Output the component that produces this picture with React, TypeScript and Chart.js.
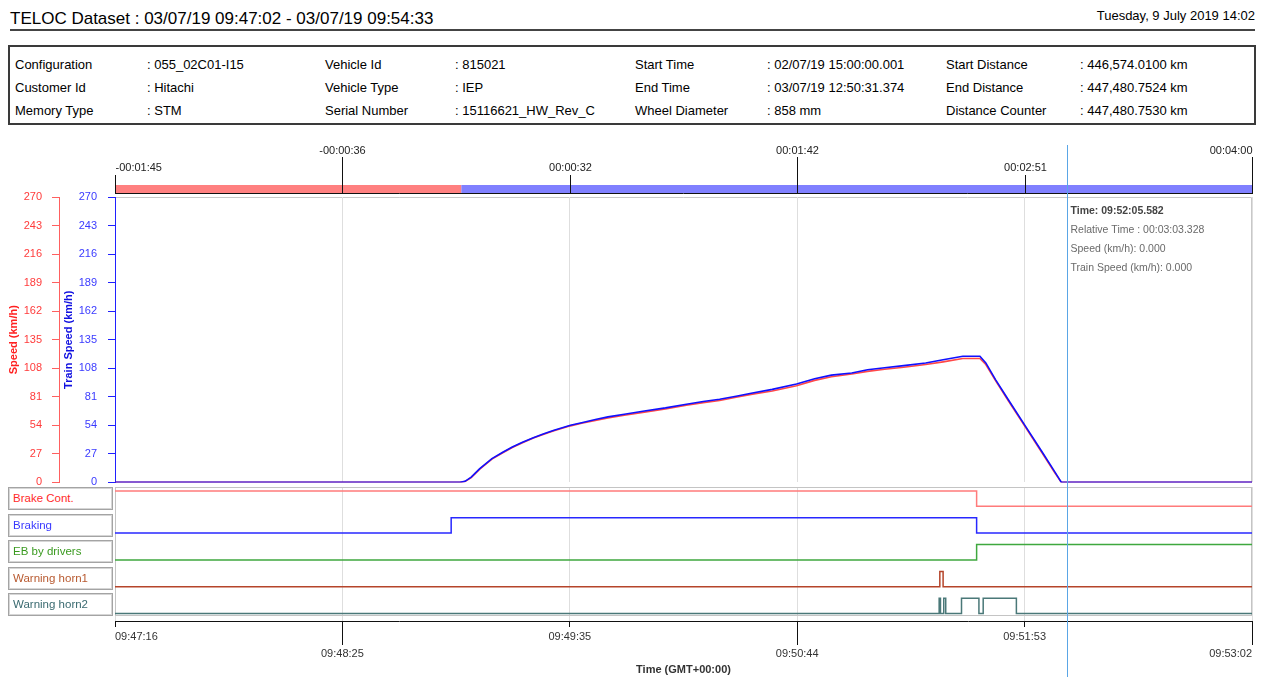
import React, { useEffect, useRef } from 'react';
import { Chart, registerables } from 'chart.js';

Chart.register(...registerables);

const FONT = '"Liberation Sans", Arial, sans-serif';

const titleText = 'TELOC Dataset : 03/07/19 09:47:02 - 03/07/19 09:54:33';
const printDate = 'Tuesday, 9 July 2019 14:02';

const infoLabelsCol1 = ['Configuration', 'Customer Id', 'Memory Type'];
const infoValuesCol1 = [': 055_02C01-I15', ': Hitachi', ': STM'];
const infoLabelsCol2 = ['Vehicle Id', 'Vehicle Type', 'Serial Number'];
const infoValuesCol2 = [': 815021', ': IEP', ': 15116621_HW_Rev_C'];
const infoLabelsCol3 = ['Start Time', 'End Time', 'Wheel Diameter'];
const infoValuesCol3 = [': 02/07/19 15:00:00.001', ': 03/07/19 12:50:31.374', ': 858 mm'];
const infoLabelsCol4 = ['Start Distance', 'End Distance', 'Distance Counter'];
const infoValuesCol4 = [': 446,574.0100 km', ': 447,480.7524 km', ': 447,480.7530 km'];

// time axis: seconds after 09:47:16
const X_MAX = 346;
const bottomTickLabels = ['09:47:16', '09:48:25', '09:49:35', '09:50:44', '09:51:53', '09:53:02'];
const topTickLabels = ['-00:01:45', '-00:00:36', '00:00:32', '00:01:42', '00:02:51', '00:04:00'];

// relative-time phase bar (before / after reference time)
const phaseStarts = [0, 105.4];
const phaseEnds = [105.4, 346];

const speedTimes = [0, 105, 106.5, 108.4, 111, 114.7, 118, 120.9, 124, 127.3,
  130.5, 133.6, 138.6, 142, 146.2, 150, 155, 161.1, 167.5, 173.9,
  179, 184, 189, 194, 200, 207.4, 212.9, 218, 224.2, 229,
  234.2, 240, 246.7, 252, 258, 263.2, 265, 268, 272, 276.9,
  282, 286, 288, 346];
const trainSpeedValues = [0, 0, 1, 5, 13, 22.5, 28.5, 33.5, 38, 42.3,
  46, 49.3, 54, 56.5, 59.5, 62, 64.5, 67.5, 70.5, 74,
  76.5, 78.6, 81.5, 84.6, 88, 93, 98, 101.5, 103.5, 106.5,
  108.5, 110.5, 113, 116, 119.4, 119.4, 113, 97, 77.5, 54,
  29.5, 10, 0, 0];
const speedValues = [0, 0, 0.8, 4.5, 12.5, 22, 28, 33, 37.5, 42,
  45.5, 48.8, 53.5, 56, 58.5, 61, 63.5, 66.5, 69.5, 73,
  75.5, 77.5, 80.5, 83.5, 86.5, 91.5, 96.5, 100, 102.5, 105,
  107, 109, 111.5, 114, 117.2, 117.2, 111.5, 96, 76.5, 53,
  28.5, 9, 0, 0];

const cursorTime = 289.582;
const tooltipLines = ['Time: 09:52:05.582', 'Relative Time : 00:03:03.328', 'Speed (km/h): 0.000', 'Train Speed (km/h): 0.000'];

// digital signals: transition times (s) and states
const signalNames = ['Brake Cont.', 'Braking', 'EB by drivers', 'Warning horn1', 'Warning horn2'];
const brakeContTimes = [0, 262.2, 346];
const brakeContStates = [1, 0, 0];
const brakingTimes = [0, 102.3, 262.2, 346];
const brakingStates = [0, 1, 0, 0];
const ebTimes = [0, 262.2, 346];
const ebStates = [0, 1, 1];
const horn1Times = [0, 251.0, 252.0, 346];
const horn1States = [0, 1, 0, 0];
const horn2Times = [0, 250.8, 251.2, 252.2, 252.8, 257.6, 262.9, 264.2, 274.3, 346];
const horn2States = [0, 1, 0, 1, 0, 1, 0, 1, 0, 0];

const signalLineColors = ['#ff7b7b', '#2828ff', '#3fa83f', '#b5442a', '#4a7878'];
const signalTextColors = ['#ff2a2a', '#3a3aff', '#3a9a20', '#b85a30', '#3a6a70'];
const LOW = 0.28;
const HIGH = 0.85;

const xTickValues = bottomTickLabels.map((_, i) => (i * X_MAX) / (bottomTickLabels.length - 1));
const setTicks = (s: any) => {
  s.ticks = xTickValues.map((v) => ({ value: v }));
};

const CURSOR_COLOR = '#5aa6e6';

export default function App() {
  const speedRef = useRef<HTMLCanvasElement>(null);
  const digitalRef = useRef<HTMLCanvasElement>(null);

  useEffect(() => {
    const topAxisPlugin = {
      id: 'topAxis',
      beforeDraw(chart: any) {
        const { ctx, chartArea: a, scales } = chart;
        const xs = scales.x;
        ctx.save();
        const phaseColors = ['#ff8080', '#8080ff'];
        phaseStarts.forEach((s, i) => {
          const x0 = xs.getPixelForValue(s);
          const x1 = xs.getPixelForValue(phaseEnds[i]);
          ctx.fillStyle = phaseColors[i];
          ctx.fillRect(x0, a.top - 12, x1 - x0, 8);
        });
        ctx.strokeStyle = '#111';
        ctx.lineWidth = 1;
        ctx.beginPath();
        ctx.moveTo(a.left, a.top - 3.5);
        ctx.lineTo(a.right, a.top - 3.5);
        ctx.stroke();
        ctx.font = `11px ${FONT}`;
        ctx.fillStyle = '#222';
        ctx.textBaseline = 'middle';
        const n = topTickLabels.length;
        topTickLabels.forEach((lab, i) => {
          const px = Math.round(xs.getPixelForValue(xTickValues[i])) + 0.5;
          const upper = i % 2 === 1;
          ctx.beginPath();
          ctx.moveTo(px, a.top - (upper ? 40 : 22));
          ctx.lineTo(px, a.top - 3);
          ctx.stroke();
          ctx.textAlign = i === 0 ? 'left' : i === n - 1 ? 'right' : 'center';
          ctx.fillText(lab, px, a.top - (upper ? 46.5 : 29));
        });
        // plot frame
        ctx.strokeStyle = '#c8c8c8';
        ctx.beginPath();
        ctx.moveTo(a.left, a.top + 0.5);
        ctx.lineTo(a.right - 0.5, a.top + 0.5);
        ctx.lineTo(a.right - 0.5, a.bottom);
        ctx.stroke();
        ctx.restore();
      },
      afterDraw(chart: any) {
        const { ctx, chartArea: a, scales, height } = chart;
        const px = Math.round(scales.x.getPixelForValue(cursorTime)) + 0.5;
        ctx.save();
        ctx.strokeStyle = CURSOR_COLOR;
        ctx.lineWidth = 1;
        ctx.beginPath();
        ctx.moveTo(px, 5);
        ctx.lineTo(px, height);
        ctx.stroke();
        ctx.textAlign = 'left';
        ctx.textBaseline = 'middle';
        tooltipLines.forEach((t, i) => {
          ctx.font = i === 0 ? `bold 10.5px ${FONT}` : `10.5px ${FONT}`;
          ctx.fillStyle = i === 0 ? '#444' : '#6a6a6a';
          ctx.fillText(t, px + 3, a.top + 14 + i * 19);
        });
        ctx.restore();
      },
    };

    const speedChart = new Chart(speedRef.current as HTMLCanvasElement, {
      type: 'line',
      data: {
        datasets: [
          {
            label: 'Train Speed (km/h)',
            data: speedTimes.map((t, i) => ({ x: t, y: trainSpeedValues[i] })),
            yAxisID: 'yTrain',
            borderColor: '#1010ff',
            borderWidth: 1.6,
            pointRadius: 0,
            order: 0,
          },
          {
            label: 'Speed (km/h)',
            data: speedTimes.map((t, i) => ({ x: t, y: speedValues[i] })),
            yAxisID: 'ySpeed',
            borderColor: 'rgba(255,40,40,0.85)',
            borderWidth: 1.6,
            pointRadius: 0,
            order: 1,
          },
        ],
      },
      options: {
        animation: false,
        responsive: false,
        events: [],
        layout: { padding: { top: 57, right: 15, bottom: 2, left: 0 } },
        plugins: { legend: { display: false }, tooltip: { enabled: false } },
        scales: {
          x: {
            type: 'linear',
            min: 0,
            max: X_MAX,
            afterBuildTicks: setTicks,
            ticks: { display: false },
            grid: { color: '#dedede', drawTicks: false },
            border: { display: false },
            afterFit: (s: any) => { s.height = 0; },
          },
          ySpeed: {
            position: 'left',
            weight: 1,
            min: 0,
            max: 270,
            ticks: { stepSize: 27, color: '#ff3b3b', font: { family: FONT, size: 11 }, padding: 10 },
            grid: { drawOnChartArea: false, color: '#ff6060', tickLength: 7 },
            border: { color: '#ff6060' },
            title: { display: true, text: 'Speed (km/h)', color: '#ff2020', font: { family: FONT, size: 11, weight: 'bold' }, padding: { top: 7, bottom: 0 } },
            afterFit: (s: any) => { s.width = 59; },
          },
          yTrain: {
            position: 'left',
            weight: 0,
            min: 0,
            max: 270,
            ticks: { stepSize: 27, color: '#3a3aff', font: { family: FONT, size: 11 }, padding: 11 },
            grid: { drawOnChartArea: false, color: '#2020ff', tickLength: 7 },
            border: { color: '#2020ff' },
            title: { display: true, text: 'Train Speed (km/h)', color: '#1010e0', font: { family: FONT, size: 11, weight: 'bold' }, padding: { top: 3, bottom: 0 } },
            afterFit: (s: any) => { s.width = 56; },
          },
        },
      } as any,
      plugins: [topAxisPlugin],
    });

    const signalTimes = [brakeContTimes, brakingTimes, ebTimes, horn1Times, horn2Times];
    const signalStates = [brakeContStates, brakingStates, ebStates, horn1States, horn2States];
    const nSig = signalNames.length;

    const digitalPlugin = {
      id: 'digitalDecor',
      beforeDatasetsDraw(chart: any) {
        const { ctx, chartArea: a } = chart;
        ctx.save();
        ctx.strokeStyle = '#c4c4c4';
        ctx.lineWidth = 1;
        ctx.strokeRect(a.left + 0.5, a.top + 0.5, a.right - a.left - 1, a.bottom - a.top - 6);
        ctx.restore();
      },
      afterDraw(chart: any) {
        const { ctx, chartArea: a, scales, height } = chart;
        const xs = scales.x;
        ctx.save();
        ctx.strokeStyle = '#111';
        ctx.lineWidth = 1;
        xTickValues.forEach((v, i) => {
          if (i % 2 === 1) {
            const px = Math.round(xs.getPixelForValue(v)) + 0.5;
            ctx.beginPath();
            ctx.moveTo(px, a.bottom);
            ctx.lineTo(px, a.bottom + 24);
            ctx.stroke();
          }
        });
        const cx = Math.round(xs.getPixelForValue(cursorTime)) + 0.5;
        ctx.strokeStyle = CURSOR_COLOR;
        ctx.beginPath();
        ctx.moveTo(cx, 0);
        ctx.lineTo(cx, height);
        ctx.stroke();
        ctx.restore();
      },
    };

    const digitalChart = new Chart(digitalRef.current as HTMLCanvasElement, {
      type: 'line',
      data: {
        datasets: signalNames.map((name, i) => ({
          label: name,
          data: signalTimes[i].map((t, j) => ({ x: t, y: nSig - 1 - i + LOW + signalStates[i][j] * (HIGH - LOW) })),
          stepped: true,
          borderColor: signalLineColors[i],
          borderWidth: 1.5,
          pointRadius: 0,
        })),
      },
      options: {
        animation: false,
        responsive: false,
        events: [],
        layout: { padding: { top: 3, right: 15, bottom: 0, left: 115 } },
        plugins: { legend: { display: false }, tooltip: { enabled: false } },
        scales: {
          x: {
            type: 'linear',
            min: 0,
            max: X_MAX,
            afterBuildTicks: setTicks,
            ticks: {
              callback: (_v: any, i: number) => (i % 2 === 1 ? ['', bottomTickLabels[i]] : bottomTickLabels[i]),
              align: 'inner',
              padding: 2,
              color: '#333',
              maxRotation: 0,
              autoSkip: false,
              font: { family: FONT, size: 11, lineHeight: 1.5 },
            },
            grid: { color: '#dedede', tickColor: '#111', tickLength: 6 },
            border: { color: '#111' },
            title: { display: true, text: 'Time (GMT+00:00)', color: '#333', font: { family: FONT, size: 11, weight: 'bold' }, padding: { top: 0, bottom: 0 } },
            afterFit: (s: any) => { s.height = 56; },
          },
          y: { display: false, min: 0, max: nSig },
        },
      } as any,
      plugins: [digitalPlugin],
    });

    return () => {
      speedChart.destroy();
      digitalChart.destroy();
    };
  }, []);

  const infoCols = [
    [infoLabelsCol1, infoValuesCol1],
    [infoLabelsCol2, infoValuesCol2],
    [infoLabelsCol3, infoValuesCol3],
    [infoLabelsCol4, infoValuesCol4],
  ];
  const labelX = [15, 325, 635, 946];
  const valueX = [147, 455, 767, 1080];

  return (
    <div style={{ position: 'absolute', left: 0, top: 0, width: 1267, height: 677, background: '#fff', fontFamily: FONT, overflow: 'hidden', color: '#000' }}>
      <div style={{ position: 'absolute', left: 10, top: 9, fontSize: 17, lineHeight: '20px', whiteSpace: 'nowrap' }}>{titleText}</div>
      <div style={{ position: 'absolute', right: 12, top: 7.5, fontSize: 13, lineHeight: '16px', whiteSpace: 'nowrap' }}>{printDate}</div>
      <div style={{ position: 'absolute', left: 10, top: 29, width: 1245, height: 2, background: '#444' }} />
      <div style={{ position: 'absolute', left: 8, top: 45, width: 1248, height: 80, border: '2px solid #3a3a3a', boxSizing: 'border-box' }} />
      {infoCols.map(([labs, vals], c) =>
        labs.map((lab, r) => (
          <React.Fragment key={`${c}-${r}`}>
            <div style={{ position: 'absolute', left: labelX[c], top: 57 + r * 23, fontSize: 13, lineHeight: '16px', whiteSpace: 'nowrap' }}>{lab}</div>
            <div style={{ position: 'absolute', left: valueX[c], top: 57 + r * 23, fontSize: 13, lineHeight: '16px', whiteSpace: 'nowrap' }}>{vals[r]}</div>
          </React.Fragment>
        ))
      )}
      <canvas ref={speedRef} width={1267} height={360} style={{ position: 'absolute', left: 0, top: 140, display: 'block' }} />
      <canvas ref={digitalRef} width={1267} height={193} style={{ position: 'absolute', left: 0, top: 484, display: 'block' }} />
      {signalNames.map((name, i) => (
        <div
          key={name}
          style={{
            position: 'absolute',
            left: 8,
            top: 487 + i * 26.5,
            width: 105,
            height: 23,
            boxSizing: 'border-box',
            border: '1px solid #a4a4a4',
            boxShadow: 'inset 0 0 0 1px #d6d6d6',
            fontSize: 11.5,
            lineHeight: '21px',
            paddingLeft: 4,
            color: signalTextColors[i],
            whiteSpace: 'nowrap',
            background: '#fff',
          }}
        >
          {name}
        </div>
      ))}
    </div>
  );
}
